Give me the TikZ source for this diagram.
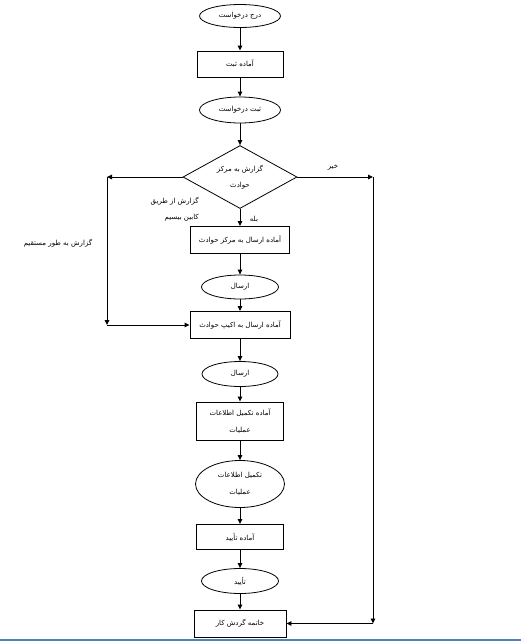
\documentclass[tikz,border=0pt]{standalone}
\usepackage{fontspec}
\newfontfamily\fa[Script=Arabic]{DejaVu Sans}
\TeXXeTstate=1
\usetikzlibrary{shapes.geometric,arrows.meta}
\newcommand\rtl[1]{\beginR #1\endR}
\definecolor{wordblue}{RGB}{79,129,189}
\begin{document}
\begin{tikzpicture}[x=1pt,y=-1pt,
  every node/.style={font=\fa\fontsize{7}{16.5}\selectfont},
  box/.style={draw,line width=0.9pt,inner sep=0pt,align=center},
  oval/.style={ellipse,draw,line width=0.8pt,inner sep=0pt,align=center},
  dec/.style={diamond,draw,line width=0.8pt,inner sep=0pt,aspect=2,align=center},
  arr/.style={line width=0.9pt,-{Triangle[length=5pt,width=4.5pt]}},
  lbl/.style={inner sep=0pt}]
\useasboundingbox (0,0) rectangle (521,641);
\node[oval,minimum width=81pt,minimum height=23pt] (e1) at (240,16) {\rtl{درج درخواست}};
\node[box,minimum width=86pt,minimum height=26pt] (b1) at (240,64) {\rtl{آماده ثبت}};
\node[oval,minimum width=81pt,minimum height=26pt] (e2) at (240,110) {\rtl{ثبت درخواست}};
\node[dec,minimum width=114pt,minimum height=63pt] (d) at (240,177) {\rtl{گزارش به مرکز}\\\rtl{حوادث}};
\node[box,minimum width=99pt,minimum height=27pt] (b2) at (240,240) {\rtl{آماده ارسال به مرکز حوادث}};
\node[oval,minimum width=77pt,minimum height=24pt] (e3) at (240,287) {\rtl{ارسال}};
\node[box,minimum width=100pt,minimum height=27pt] (b3) at (240,325) {\rtl{آماده ارسال به اکیپ حوادث}};
\node[oval,minimum width=76pt,minimum height=25pt] (e4) at (240,374) {\rtl{ارسال}};
\node[box,minimum width=87pt,minimum height=38pt] (b4) at (240,421) {\rtl{آماده تکمیل اطلاعات}\\\rtl{عملیات}};
\node[oval,minimum width=89pt,minimum height=47pt] (e5) at (240,484) {\rtl{تکمیل اطلاعات}\\\rtl{عملیات}};
\node[box,minimum width=87pt,minimum height=25pt] (b5) at (240,537) {\rtl{آماده تأیید}};
\node[oval,minimum width=77pt,minimum height=25pt] (e6) at (240,581) {\rtl{تأیید}};
\node[box,minimum width=92pt,minimum height=27pt] (b6) at (240,623.5) {\rtl{خاتمه گردش کار}};
\node[lbl] (no) at (333,167) {\rtl{خیر}};
\node[lbl] (yes) at (254,219) {\rtl{بله}};
\node[lbl,anchor=east,align=right] (via) at (199,209) {\rtl{گزارش از طریق}\\\rtl{کابین بیسیم}};
\node[lbl] (direct) at (58,243) {\rtl{گزارش به طور مستقیم}};
\coordinate (L1) at (107,177);
\coordinate (L2) at (107,325);
\coordinate (R1) at (373,177);
\coordinate (R2) at (373,623.5);
\draw[arr] (e1) -- (b1);
\draw[arr] (b1) -- (e2);
\draw[arr] (e2) -- (d);
\draw[arr] (d) -- (b2);
\draw[arr] (b2) -- (e3);
\draw[arr] (e3) -- (b3);
\draw[arr] (b3) -- (e4);
\draw[arr] (e4) -- (b4);
\draw[arr] (b4) -- (e5);
\draw[arr] (e5) -- (b5);
\draw[arr] (b5) -- (e6);
\draw[arr] (e6) -- (b6);
\draw[arr] (d.west) -- (L1);
\draw[arr] (L1) -- (L2);
\draw[arr] (L2) -- (b3.west);
\draw[arr] (d.east) -- (R1);
\draw[arr] (R1) -- (R2);
\draw[arr] (R2) -- (b6.east);
\draw[wordblue,line width=2pt] (0,640) -- (521,640);
\end{tikzpicture}
\end{document}
